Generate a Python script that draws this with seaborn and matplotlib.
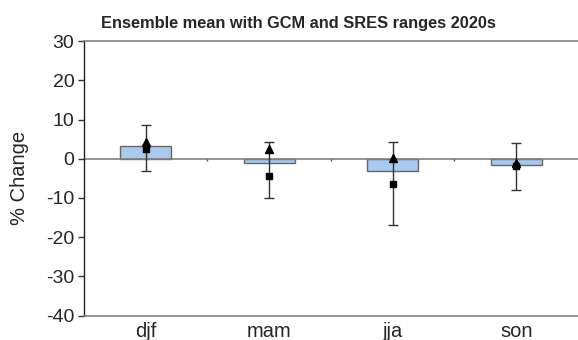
import matplotlib
matplotlib.use('Agg')
import matplotlib.pyplot as plt
import seaborn as sns
import pandas as pd

# ── Data ───────────────────────────────────────────────
seasons = ['djf', 'mam', 'jja', 'son']
ens_mean = [3.2, -1.0, -3.2, -1.5]
range_lo = [-3.2, -10.0, -16.8, -8.0]
range_hi = [8.5, 4.2, 4.3, 4.1]
triangle = [4.3, 2.4, 0.2, -1.0]
square = [2.4, -4.3, -6.4, -1.9]

df = pd.DataFrame({'season': seasons, 'change': ens_mean})

sns.set_theme(style='white')
plt.rcParams['font.family'] = ['Liberation Sans', 'DejaVu Sans']
plt.rcParams['axes.unicode_minus'] = False

fig = plt.figure(figsize=(5.78, 3.40), dpi=100)
ax = fig.add_axes([0.1453, 0.072, 0.8547, 0.807])

sns.barplot(data=df, x='season', y='change', color='#a9c9ef', saturation=1,
            width=0.41, edgecolor='#666666', linewidth=1.0, ax=ax)

x = list(range(len(seasons)))
ax.axhline(0, color='#808080', linewidth=1.2, zorder=1)
ax.vlines([i + 0.5 for i in x[:-1]], -0.7, 0, color='#555555', linewidth=1)

# GCM / SRES ranges
yerr = [[m - lo for m, lo in zip(ens_mean, range_lo)],
        [hi - m for m, hi in zip(ens_mean, range_hi)]]
ax.errorbar(x, ens_mean, yerr=yerr, fmt='none', ecolor='#333333',
            elinewidth=1.0, capsize=3.5, capthick=1.0, zorder=3)
ax.plot(x, triangle, linestyle='none', marker='^', color='black', markersize=6, zorder=4)
ax.plot(x, square, linestyle='none', marker='s', color='black', markersize=5, zorder=4)

ax.set_ylim(-40, 30)
ax.set_xlim(-0.5, len(seasons) - 0.5)
ax.set_yticks(range(-40, 31, 10))
ax.tick_params(axis='y', direction='out', length=4, width=1, color='#333333',
               labelsize=14, pad=3, left=True)
ax.tick_params(axis='x', length=0, labelsize=14.5, pad=5)
ax.set_xlabel('')
ax.set_ylabel('% Change', fontsize=14.5, labelpad=12)
fig.text(0.516, 0.932, 'Ensemble mean with GCM and SRES ranges 2020s',
         fontsize=11.8, fontweight='bold', ha='center', va='center')

for side in ['top', 'bottom']:
    ax.spines[side].set_color('#808080')
    ax.spines[side].set_linewidth(1.2)
ax.spines['left'].set_color('#222222')
ax.spines['left'].set_linewidth(1.0)
ax.spines['right'].set_visible(False)

fig.savefig('out.png', dpi=100)
